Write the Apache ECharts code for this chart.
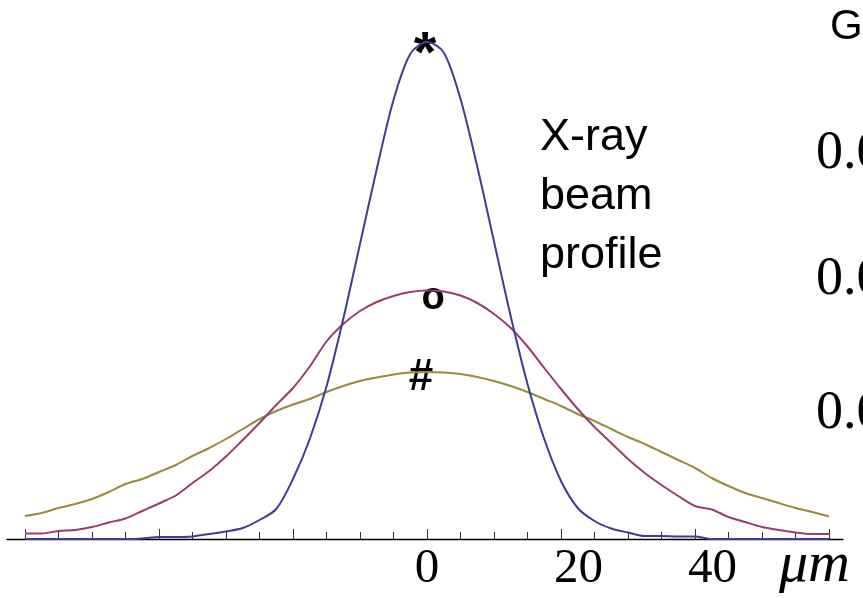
<!DOCTYPE html>
<html>
<head>
<meta charset="utf-8">
<script src="https://cdn.jsdelivr.net/npm/echarts@6.0.0/dist/echarts.min.js"></script>
<style>
  html, body { margin: 0; padding: 0; background: #ffffff; }
  #chart { width: 863px; height: 598px; }
</style>
</head>
<body>
<div id="chart"></div>
<script>
// Positions along the beam (micrometres)
const positions = [-60,-57.5,-55,-52.5,-50,-47.5,-45,-42.5,-40,-37.5,-35,-32.5,-30,-27.5,-25,-22.5,-20,-17.5,-15,-12.5,-10,-7.5,-5,-2.5,0,2.5,5,7.5,10,12.5,15,17.5,20,22.5,25,27.5,30,32.5,35,37.5,40,42.5,45,47.5,50,52.5,55,57.5,60];

// Intensity profiles (relative units)
const profileStar = [0,0,0,0,0,0,0,0.1,0.4,0.4,0.5,1.0,1.5,2.2,3.8,6.0,12.0,20.0,30.5,44.0,59.0,74.0,87.8,97.0,99.4,97.3,88.0,74.5,59.5,44.5,31.0,20.0,11.6,6.2,3.6,2.1,1.3,0.6,0.6,0.5,0.5,0,0,0,0,0,0,0,0];
const profileCircle = [1.1,1.1,1.6,1.8,2.4,3.3,4.1,5.6,7.1,8.7,11.2,13.6,16.5,19.8,23.2,26.8,30.2,34.5,39.5,43.0,45.6,47.4,48.6,49.4,49.7,49.5,48.7,47.2,45.0,42.2,38.5,34.2,30.0,26.0,22.4,19.2,16.0,13.2,10.8,8.6,6.6,5.9,4.4,3.4,2.4,1.8,1.3,1.0,1.0];
const profileHash = [4.6,5.2,6.2,7.0,8.0,9.4,11.0,12.0,13.4,14.8,16.6,18.2,20.0,22.0,24.0,25.6,26.9,28.0,29.4,30.6,31.6,32.3,32.9,33.3,33.4,33.3,33.0,32.4,31.6,30.6,29.4,28.0,26.6,25.0,23.6,22.0,20.4,19.0,17.4,15.8,14.2,12.2,10.6,9.2,8.2,7.2,6.2,5.4,4.5];

// Axis ticks and labels
const minorTicks = [-60,-55,-50,-45,-40,-35,-30,-25,-20,-15,-10,-5,0,5,10,15,20,25,30,35,40,45,50,55,60];
const majorTicks = [-60,-40,-20,0,20,40,60];
const tickLabels = [0,20,40];

const pair = (ys) => positions.map((x, i) => [x, ys[i]]);

const chart = echarts.init(document.getElementById('chart'), null, { renderer: 'canvas' });

const serif = '"Liberation Serif", "DejaVu Serif", serif';
const sans = '"Liberation Sans", Arial, sans-serif';

const xMin = -62.687, xMax = 62.09;

chart.setOption({
  animation: false,
  backgroundColor: '#ffffff',
  grid: { left: 7, right: 20, top: 39, bottom: 59, containLabel: false },
  xAxis: [
    {
      type: 'value', min: xMin, max: xMax, position: 'bottom',
      axisLine: { show: true, onZero: false, lineStyle: { color: '#000', width: 1.3 } },
      axisTick: { show: true, inside: true, length: 7, customValues: minorTicks, lineStyle: { color: '#333', width: 1 } },
      splitLine: { show: false },
      axisLabel: {
        show: true, customValues: tickLabels, margin: 6,
        formatter: function (v) { return v === 0 ? '{a|0}' : '{b|' + v + '}'; },
        rich: {
          a: { fontFamily: serif, fontSize: 49, color: '#000' },
          b: { fontFamily: serif, fontSize: 49, color: '#000', padding: [0, 0, 0, 35] }
        }
      }
    },
    {
      type: 'value', min: xMin, max: xMax, position: 'bottom', offset: 0,
      axisLine: { show: false, onZero: false },
      axisTick: { show: true, inside: true, length: 10, customValues: majorTicks, lineStyle: { color: '#333', width: 1 } },
      axisLabel: { show: false },
      splitLine: { show: false }
    }
  ],
  yAxis: { type: 'value', min: 0, max: 100, show: false, splitLine: { show: false } },
  series: [
    { type: 'line', name: '#', xAxisIndex: 0, data: pair(profileHash), showSymbol: false, smooth: 0.3,
      lineStyle: { color: '#998b3d', width: 2 } },
    { type: 'line', name: 'o', xAxisIndex: 0, data: pair(profileCircle), showSymbol: false, smooth: 0.3,
      lineStyle: { color: '#993d71', width: 2 } },
    { type: 'line', name: '*', xAxisIndex: 0, data: pair(profileStar), showSymbol: false, smooth: 0.3,
      lineStyle: { color: '#3d3d99', width: 2 } }
  ],
  graphic: [
    { type: 'text', x: 540, y: 138, style: { text: 'X-ray', font: '45px ' + sans, fill: '#000', verticalAlign: 'middle' } },
    { type: 'text', x: 540, y: 197, style: { text: 'beam', font: '45px ' + sans, fill: '#000', verticalAlign: 'middle' } },
    { type: 'text', x: 540, y: 256, style: { text: 'profile', font: '45px ' + sans, fill: '#000', verticalAlign: 'middle' } },
    { type: 'text', x: 830, y: 27.5, style: { text: 'G', font: '42px ' + sans, fill: '#000', verticalAlign: 'middle' } },
    { type: 'text', x: 816, y: 154, style: { text: '0.0', font: '54px ' + serif, fill: '#000', verticalAlign: 'middle' } },
    { type: 'text', x: 816, y: 280, style: { text: '0.0', font: '54px ' + serif, fill: '#000', verticalAlign: 'middle' } },
    { type: 'text', x: 816, y: 414, style: { text: '0.0', font: '54px ' + serif, fill: '#000', verticalAlign: 'middle' } },
    { type: 'text', x: 779, y: 566, style: { text: 'μm', font: 'italic 58px ' + serif, fill: '#000', verticalAlign: 'middle' } },
    { type: 'text', x: 425, y: 56, style: { text: '*', font: 'bold 58px ' + sans, fill: '#000', align: 'center', verticalAlign: 'middle' } },
    { type: 'text', x: 433, y: 299, style: { text: 'o', font: 'bold 38px ' + sans, fill: '#000', align: 'center', verticalAlign: 'middle' } },
    { type: 'text', x: 421, y: 378, style: { text: '#', font: 'bold 44px ' + sans, fill: '#000', align: 'center', verticalAlign: 'middle' } }
  ]
});
</script>
</body>
</html>
